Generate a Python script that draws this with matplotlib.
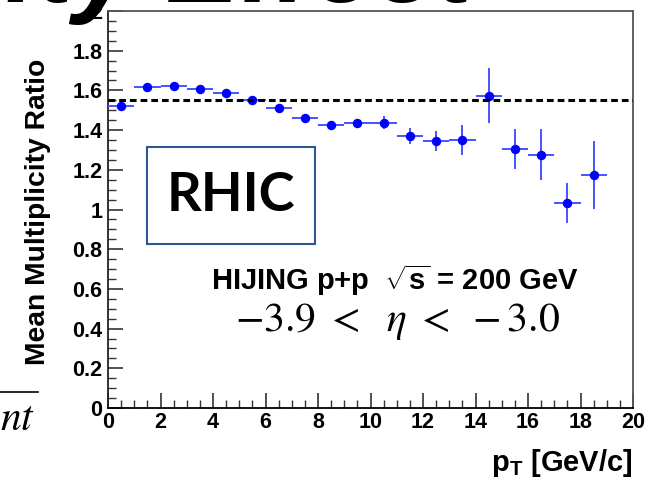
import matplotlib
matplotlib.use("Agg")
from matplotlib import pyplot as plt
from matplotlib.patches import Rectangle
from matplotlib.lines import Line2D
from matplotlib.ticker import MultipleLocator

#---------------------------------
# data
pt_centers = [0.5, 1.5, 2.5, 3.5, 4.5, 5.5, 6.5, 7.5, 8.5, 9.5,
              10.5, 11.5, 12.5, 13.5, 14.5, 15.5, 16.5, 17.5, 18.5]
ratio = [1.52, 1.619, 1.624, 1.605, 1.585, 1.55, 1.51, 1.462, 1.427, 1.437,
         1.437, 1.370, 1.345, 1.350, 1.573, 1.305, 1.276, 1.033, 1.175]
ratio_err = [0.005, 0.006, 0.007, 0.008, 0.010, 0.012, 0.012, 0.012, 0.015, 0.017,
             0.032, 0.040, 0.050, 0.077, 0.138, 0.100, 0.128, 0.100, 0.172]
bin_half = [0.5] * len(pt_centers)
mean_ratio = 1.553

y_ticks = [0, 0.2, 0.4, 0.6, 0.8, 1, 1.2, 1.4, 1.6, 1.8, 2]
y_tick_labels = ["0", "0.2", "0.4", "0.6", "0.8", "1", "1.2", "1.4", "1.6", "1.8", "2"]
x_ticks = [0, 2, 4, 6, 8, 10, 12, 14, 16, 18, 20]

plt.rcParams["font.family"] = ["Liberation Sans", "DejaVu Sans"]
plt.rcParams["mathtext.fontset"] = "custom"
plt.rcParams["mathtext.rm"] = "Liberation Sans:bold"
plt.rcParams["mathtext.bf"] = "Liberation Sans:bold"
plt.rcParams["mathtext.it"] = "Liberation Sans:bold"

fig = plt.figure(figsize=(6.52, 4.84), dpi=100)
ax = fig.add_axes([108 / 652, 1 - 408 / 484, 525 / 652, 397 / 484])

#-------------------------------
# plotting
ax.errorbar(pt_centers, ratio, yerr=ratio_err, xerr=bin_half, fmt="o",
            color="#0000ff", ecolor="#4455ff", elinewidth=1.4, capsize=0,
            markersize=5.8, zorder=3)
ax.axhline(mean_ratio, color="black", linestyle=(0, (2.2, 1.3)), linewidth=2.2, zorder=4)

#---------------------------------
# formatting, ROOT-ish frame
ax.set_xlim(0, 20)
ax.set_ylim(0, 2)
ax.set_xticks(x_ticks)
ax.set_xticklabels([str(t) for t in x_ticks])
ax.set_yticks(y_ticks)
ax.set_yticklabels(y_tick_labels)
ax.xaxis.set_minor_locator(MultipleLocator(0.5))
ax.yaxis.set_minor_locator(MultipleLocator(0.05))
ax.tick_params(which="both", direction="in", top=False, right=False, color="#333333")
ax.tick_params(which="major", axis="y", length=11, width=1.2, pad=4)
ax.tick_params(which="minor", axis="y", length=6, width=1.0)
ax.tick_params(which="major", axis="x", length=11, width=1.2, pad=3)
ax.tick_params(which="minor", axis="x", length=6, width=1.0)
for lab in ax.get_xticklabels() + ax.get_yticklabels():
    lab.set_fontsize(15.5)
    lab.set_fontweight("bold")
ax.spines["left"].set_color("#222222")
ax.spines["bottom"].set_color("black")
ax.spines["top"].set_color("#555555")
ax.spines["right"].set_color("#555555")
for s in ax.spines.values():
    s.set_linewidth(1.3)

fig.text(38 / 652, 1 - 212 / 484, "Mean Multiplicity Ratio", rotation=90,
         ha="center", va="center", fontsize=20.3, fontweight="bold")
fig.text(633 / 652, 1 - 463 / 484, r"p$_{\mathbf{T}}$ [GeV/c]", ha="right", va="center",
         fontsize=21, fontweight="bold")

# labels inside the frame
ax.add_patch(Rectangle((1.47, 0.825), 6.41, 0.488, fill=False, edgecolor="#2f5597",
                       linewidth=1.5, zorder=5))
ax.text(4.67, 1.07, "RHIC", ha="center", va="center", fontsize=39, fontweight="bold",
        family=["Lato", "DejaVu Sans"], zorder=6)
ax.text(3.94, 0.645, r"HIJING p+p  $\sqrt{\mathbf{s}}$ = 200 GeV", ha="left", va="center",
        fontsize=21, fontweight="bold")
ax.text(4.84, 0.438, r"$-3.9\ <\ \ \eta\ <\ -3.0$", ha="left", va="center", fontsize=30,
        math_fontfamily="stix")

# leftovers of the slide around the plot
fig.text(473 / 652, 1 - 2 / 484, "Multiplicity Effect", ha="right", va="baseline",
         fontsize=80, fontweight="bold", style="italic")
fig.text(0, 1 - 430 / 484, r"$nt$", ha="left", va="baseline", fontsize=30,
         math_fontfamily="stix")
fig.add_artist(Line2D([0, 38 / 652], [1 - 392 / 484, 1 - 392 / 484], color="black",
                      linewidth=1.2))

plt.savefig("out.png", dpi=100)
